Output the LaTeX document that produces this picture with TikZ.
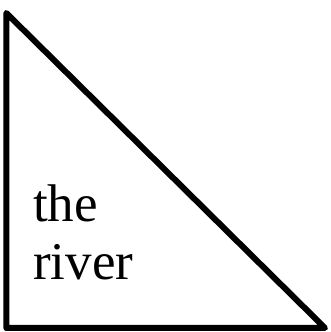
\documentclass[tikz,border=0pt]{standalone}
\usepackage{fontspec}
\setmainfont{Liberation Serif}
\begin{document}
\begin{tikzpicture}[x=1pt,y=1pt,
  edge/.style={line width=6pt,line join=round,line cap=butt},
  lbl/.style={inner sep=0pt,anchor=base west,font=\fontsize{53}{58}\selectfont}]
\useasboundingbox (0,0) rectangle (331,332);
\coordinate (A) at (6.3,319);
\coordinate (B) at (6.3,4);
\coordinate (C) at (325,4);
\draw[edge] (A) -- (B) -- (C) -- cycle;
\node[lbl] (t1) at (33,110) {the};
\node[lbl] (t2) at (33,52) {river};
\end{tikzpicture}
\end{document}
